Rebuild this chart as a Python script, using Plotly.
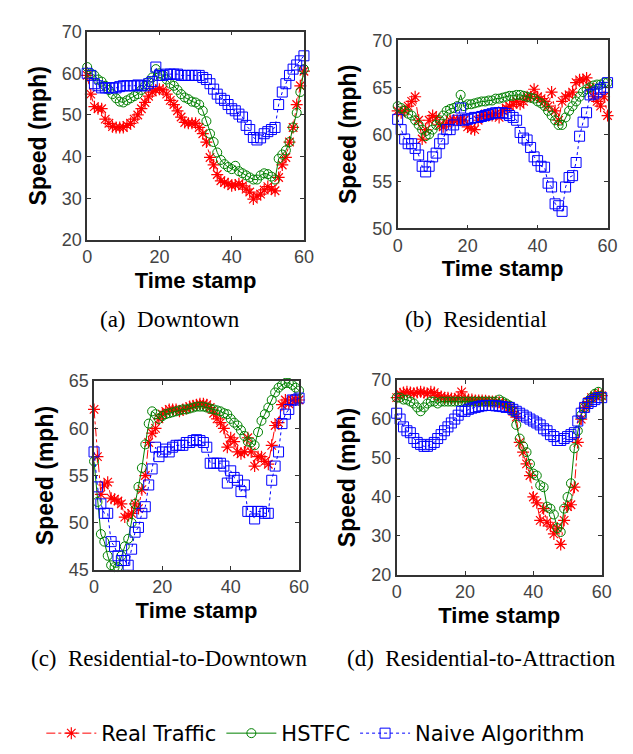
import plotly.graph_objects as go

t = list(range(0, 61))

# (a) Downtown
a_real = [59.5, 55, 52, 51.5, 51.5, 49, 48, 47.2, 47, 47, 47, 47.5, 48, 49, 50, 51.5, 53, 54.5, 55.5, 56,
          56.2, 56, 55, 53.5, 52.5, 51, 49.5, 48.2, 48, 48, 48, 47, 45.5, 43.5, 39.8, 38, 35.7, 34.2, 33.8, 33.5,
          33, 33.2, 33.5, 33, 32.2, 31.5, 29.8, 30.5, 31, 32, 32.8, 32.2, 31.8, 35, 38, 39.8, 43.5, 47, 52.5, 57, 60.5]
a_hstfc = [61.5, 60, 59.5, 58.5, 58, 57, 56, 55, 54, 53.2, 53, 53.5, 54, 54.5, 55, 56, 57, 58, 59, 61,
           60, 59.5, 58.5, 57.5, 57, 56, 55, 54.2, 53.8, 53.2, 53, 52.5, 51, 48.5, 45.5, 43.5, 41, 39.2, 38.2, 37.5,
           37, 37.8, 36.5, 36, 35.5, 35, 34.5, 34.5, 35.5, 36, 35.8, 35.2, 34.5, 39.5, 40.5, 41.5, 43.5, 47, 50.5, 55.5, 61]
a_naive = [60, 59.5, 57.5, 57, 56.5, 56.5, 56.5, 56.5, 56.5, 56.8, 57, 57, 57, 57, 57.2, 57, 57, 57.5, 58, 61.5,
           59.5, 59.5, 59.8, 59.8, 59.8, 59.8, 59.5, 59.5, 59.5, 59.5, 59.5, 59.5, 59, 58.5, 57.5, 56.2, 55, 54, 53.5, 52.5,
           51.5, 51, 50.2, 49.5, 47.5, 46.5, 44.6, 44, 44.5, 45.5, 46, 46.5, 47, 52.5, 55.5, 57.5, 59.5, 61, 62, 63, 64.2]

# (b) Residential
b_real = [62.5, 62.3, 62.5, 63, 63.5, 64, 61.5, 59.5, 60.5, 61.5, 62, 61.8, 61, 60.8, 61.2, 61.5, 61.5, 61.5, 61.5, 61.5,
          60.8, 60.6, 60.5, 61.5, 62, 62, 62, 62, 62.2, 61.8, 62.5, 62.8, 63, 63.2, 63.5, 63.2, 63.5, 64, 64, 64.8,
          64, 63.8, 63.5, 63, 64.5, 62.5, 61.5, 63.5, 64, 64.2, 64.5, 65.5, 65.8, 65.8, 66, 65, 64, 63.5, 63, 64, 62]
b_hstfc = [63, 62.8, 62.5, 62.2, 62, 61.5, 61, 60.5, 59.8, 60, 60.5, 61, 61.5, 62, 62.5, 62.7, 62.8, 63, 64.2, 63,
           63.2, 63.2, 63.3, 63.4, 63.5, 63.5, 63.6, 63.6, 63.8, 63.8, 63.9, 64, 64.1, 64.1, 64.2, 64.2, 64.1, 64, 63.9, 63.8,
           63.5, 63.3, 63, 62.5, 62, 61.5, 61, 61, 61.8, 62.5, 63, 63.5, 64, 64.5, 64.8, 65, 65.2, 65.3, 65.3, 65.5, 65.5]
b_naive = [61.6, 60.5, 59.5, 59, 59, 58.5, 57.8, 56.6, 56, 56.6, 57.6, 58, 59, 59.5, 60.5, 60.5, 61, 61.5, 62.8, 61.5,
           61.6, 61.7, 61.8, 61.8, 61.9, 62, 62.1, 62.2, 62.3, 62.3, 62.3, 62.2, 62, 61.8, 61.5, 60.2, 59.6, 59.4, 58.6, 57.6,
           57.2, 56.6, 56.5, 54.8, 54.4, 52.6, 52.4, 51.8, 54.4, 55.4, 55.6, 57, 59.8, 61.3, 62.3, 64.2, 64.3, 64.5, 64.8, 65, 65.5]

# (c) Residential-to-Downtown
c_real = [62, 57, 53, 54, 54.3, 52.6, 52.5, 52.3, 52, 50.6, 50.8, 51, 52, 51.5, 53.5, 55, 58.5, 59.5, 60, 61,
          61.5, 61.8, 62, 62, 62, 61.8, 62, 62.1, 62.3, 62.4, 62.5, 62.6, 62.6, 62.5, 62.2, 61.6, 61, 60.6, 60, 58,
          59, 58.6, 57.5, 57.3, 57.5, 59, 57.5, 56, 57, 57, 56.5, 56.2, 58.2, 60.3, 60.6, 62.5, 63, 62.6, 63, 63, 63]
c_hstfc = [56.5, 52.2, 48.8, 48, 46.5, 45.5, 45.3, 45.3, 46.5, 47.5, 48.3, 50, 52, 53.8, 55.8, 58.3, 60.5, 61.8, 61.5, 61,
           61.3, 61.5, 61.6, 61.7, 61.8, 61.9, 62, 62, 62.1, 62.2, 62.3, 62.3, 62.3, 62.2, 62.1, 62, 61.9, 61.8, 61.6, 61.5,
           61, 60.6, 60.3, 59.8, 59.2, 58.6, 58.5, 58.2, 59.6, 60.8, 61.5, 62.2, 63, 63.8, 64.3, 64.6, 64.8, 64.8, 64.6, 64.3, 64]
c_naive = [57.5, 53.8, 52, 51, 51, 48, 47.5, 46.5, 46, 46, 45.5, 47.2, 49, 49.5, 51, 51.7, 54, 55.7, 58, 57,
           57.5, 57.8, 57.5, 58, 58.2, 58.2, 58.2, 58.5, 58.5, 58.7, 58.8, 58.7, 58.5, 58, 56.3, 56.3, 56.3, 56.3, 56, 54.2,
           55.5, 54.8, 54.5, 53.3, 54, 51.2, 51.2, 50.4, 51.2, 51.2, 51, 51, 54.5, 56, 57.5, 60.5, 61.5, 62, 63, 63, 63.2]

# (d) Residential-to-Attraction
d_real = [65.5, 66.5, 66.8, 67, 66.8, 66.6, 66.8, 67, 66.8, 66.5, 67, 66.8, 66, 65.8, 65.5, 65.5, 65.3, 65.2, 65.5, 67,
          65.2, 65, 65, 64.8, 64.8, 64.8, 64.7, 64.6, 64.5, 64.5, 64.3, 64, 63.6, 63, 62, 60.5, 54, 51.5, 48.5, 45.5,
          40, 38.5, 34, 37, 33.5, 32.5, 30.5, 32, 27.8, 34, 37.5, 38, 42.5, 54, 60, 63, 64.5, 65.5, 66, 66.5, 66]
d_hstfc = [65.5, 65.5, 65, 65, 64.5, 64, 63, 62, 63, 64, 64.5, 64.5, 64, 64.5, 64.5, 64.5, 64.5, 64.5, 64.5, 64.5,
           64.5, 64.5, 64.5, 64.5, 64.5, 64.5, 64.5, 64.5, 64.5, 64.5, 65, 64.5, 64, 63.5, 62, 58.5, 55, 53, 51.5, 48.5,
           46, 45.5, 43, 42.5, 37.5, 37, 35.5, 32, 31, 37, 40, 43.5, 52.5, 57, 61, 63, 64.5, 65.5, 66.5, 67, 66]
d_naive = [61.5, 60, 58, 57, 56.5, 55, 54, 53.5, 53, 53, 53.5, 54, 55, 56, 57, 58, 59, 60, 61, 62,
           62, 62.5, 62.8, 63, 63.2, 63.4, 63.5, 63.5, 63.5, 63.4, 63.3, 63.2, 63, 63, 62.5, 62, 61.5, 61, 60.5, 60,
           59.5, 59, 58.5, 57.5, 57, 56, 55.5, 54.5, 54.5, 55, 55.5, 56, 56.5, 59.5, 61.5, 63, 64, 64.5, 65, 65.5, 65.5]

panels = [
    ("(a)\u00a0\u00a0Downtown", a_real, a_hstfc, a_naive, [20, 70], [20, 30, 40, 50, 60, 70]),
    ("(b)\u00a0\u00a0Residential", b_real, b_hstfc, b_naive, [50, 70], [50, 55, 60, 65, 70]),
    ("(c)\u00a0\u00a0Residential-to-Downtown", c_real, c_hstfc, c_naive, [45, 65], [45, 50, 55, 60, 65]),
    ("(d)\u00a0\u00a0Residential-to-Attraction", d_real, d_hstfc, d_naive, [20, 70], [20, 30, 40, 50, 60, 70]),
]
x_ticks = [0, 20, 40, 60]

W, H = 633, 754
# pixel boxes: left, right, top, bottom
boxes = [(76, 298, 14, 228), (394, 609, 23, 216), (83, 293, 373, 567), (393, 603, 372, 572)]
caption_pos = [(161, 310), (474, 310), (160, 658), (480, 658)]

RED, GREEN, BLUE = "#ff0000", "#008000", "#0000ff"

fig = go.Figure()
layout = dict(width=W, height=H, margin=dict(l=0, r=0, t=0, b=0),
              paper_bgcolor="white", plot_bgcolor="white", annotations=[])

tick_font = dict(family="Liberation Sans, Arial", size=18, color="#444444")
xtitle_font = dict(family="Liberation Sans, Arial", size=22, color="black", weight="bold")
ytitle_font = dict(family="Liberation Sans, Arial", size=23, color="black", weight="bold")

for i, (cap, real, hstfc, naive, yr, yt) in enumerate(panels):
    k = "" if i == 0 else str(i + 1)
    xa, ya = "x" + k, "y" + k
    show = i == 0
    fig.add_trace(go.Scatter(x=t, y=real, xaxis=xa, yaxis=ya, mode="lines+markers", name="Real Traffic",
                             legendgroup="r", showlegend=show, cliponaxis=False,
                             line=dict(color=RED, width=1, dash="dashdot"),
                             marker=dict(symbol="asterisk-open", size=10, color=RED, line=dict(color=RED, width=1.2))))
    fig.add_trace(go.Scatter(x=t, y=hstfc, xaxis=xa, yaxis=ya, mode="lines+markers", name="HSTFC",
                             legendgroup="g", showlegend=show, cliponaxis=False,
                             line=dict(color=GREEN, width=1),
                             marker=dict(symbol="circle-open", size=9, color=GREEN, line=dict(color=GREEN, width=1))))
    fig.add_trace(go.Scatter(x=t, y=naive, xaxis=xa, yaxis=ya, mode="lines+markers", name="Naive Algorithm",
                             legendgroup="b", showlegend=show, cliponaxis=False,
                             line=dict(color=BLUE, width=1, dash="dot"),
                             marker=dict(symbol="square-open", size=10, color=BLUE, line=dict(color=BLUE, width=1))))
    l, r, tp, bt = boxes[i]
    axcommon = dict(showline=True, linecolor="#333333", linewidth=1.5, mirror="ticks", ticks="inside",
                    ticklen=4, tickcolor="#333333", showgrid=False, zeroline=False, tickfont=tick_font)
    layout["xaxis" + k] = dict(axcommon, domain=[l / W, r / W], anchor=ya, range=[0, 60], tickvals=x_ticks,
                               title=dict(text="Time stamp", font=xtitle_font, standoff=6))
    layout["yaxis" + k] = dict(axcommon, domain=[1 - bt / H, 1 - tp / H], anchor=xa, range=yr, tickvals=yt,
                               title=dict(text="Speed (mph)", font=ytitle_font, standoff=9))
    cx, cy = caption_pos[i]
    layout["annotations"].append(dict(text=cap, x=cx / W, y=1 - cy / H, xref="paper", yref="paper",
                                      showarrow=False, xanchor="center", yanchor="middle",
                                      font=dict(family="Liberation Serif, Times New Roman", size=23, color="black")))

layout["legend"] = dict(orientation="h", x=0.49, xanchor="center", y=1 - 735 / H, yanchor="middle",
                        font=dict(family="DejaVu Sans", size=21, color="black"), itemwidth=50,
                        bgcolor="rgba(0,0,0,0)", tracegroupgap=0)
fig.update_layout(**layout)
fig.write_html("out.html")
